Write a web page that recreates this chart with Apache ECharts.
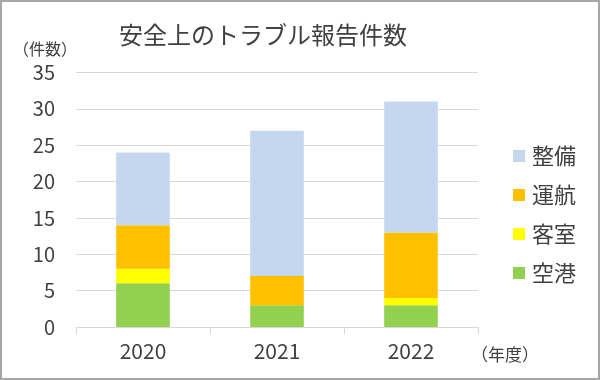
<!DOCTYPE html>
<html>
<head>
<meta charset="utf-8">
<script src="https://cdn.jsdelivr.net/npm/echarts@6/dist/echarts.min.js"></script>
<style>
html,body{margin:0;padding:0;background:#fff;}
#frame{width:600px;height:380px;box-sizing:border-box;border:2px solid #a6a6a6;position:relative;overflow:hidden;}
#chart{position:absolute;left:-2px;top:-2px;width:600px;height:380px;}
</style>
</head>
<body>
<div id="frame"><div id="chart"></div></div>
<script>
const categories = ['2020', '2021', '2022'];
const airport = [6, 3, 3];        // 空港
const cabin = [2, 0, 1];          // 客室
const flight = [6, 4, 9];         // 運航
const maintenance = [10, 20, 18]; // 整備
const yTicks = [0, 5, 10, 15, 20, 25, 30, 35];

const font = '"Noto Sans CJK JP", "Noto Sans", sans-serif';
const textColor = '#404040';
const chart = echarts.init(document.getElementById('chart'), null, {renderer: 'canvas'});

function bar(name, data, color) {
  return {name, type: 'bar', stack: 'total', data, barWidth: '40%',
    itemStyle: {color}, emphasis: {disabled: true}};
}

chart.setOption({
  animation: false,
  title: {
    text: '安全上のトラブル報告件数', left: 119, top: 22, padding: 0,
    textStyle: {fontFamily: font, fontSize: 24, lineHeight: 26, fontWeight: 'normal', color: textColor}
  },
  grid: {left: 76, right: 122, top: 72.5, bottom: 53, containLabel: false},
  legend: {
    orient: 'vertical', left: 513, top: 145, itemGap: 17, padding: 0,
    itemWidth: 12, itemHeight: 12, icon: 'rect',
    data: ['整備', '運航', '客室', '空港'],
    textStyle: {fontFamily: font, fontSize: 22, lineHeight: 22, color: textColor, padding: [0,0,0,2]}
  },
  xAxis: {
    type: 'category', data: categories,
    axisLine: {lineStyle: {color: '#d9d9d9', width: 1}},
    axisTick: {show: true, length: 7, lineStyle: {color: '#d9d9d9'}},
    axisLabel: {fontFamily: font, fontSize: 21, color: textColor, margin: 14}
  },
  yAxis: {
    type: 'value', min: yTicks[0], max: yTicks[yTicks.length - 1], interval: 5,
    axisLine: {show: false}, axisTick: {show: false},
    splitLine: {lineStyle: {color: '#d9d9d9', width: 1}},
    axisLabel: {fontFamily: font, fontSize: 20, color: textColor, margin: 21}
  },
  graphic: [
    {type: 'text', x: 45, y: 49, style: {text: '（件数）', font: '16px ' + font, fill: textColor, align: 'center', verticalAlign: 'middle'}},
    {type: 'text', x: 505, y: 355, style: {text: '（年度）', font: '17px ' + font, fill: textColor, align: 'center', verticalAlign: 'middle'}}
  ],
  series: [
    bar('空港', airport, '#92d050'),
    bar('客室', cabin, '#ffff00'),
    bar('運航', flight, '#ffc000'),
    bar('整備', maintenance, '#c5d7ee')
  ]
});
</script>
</body>
</html>
